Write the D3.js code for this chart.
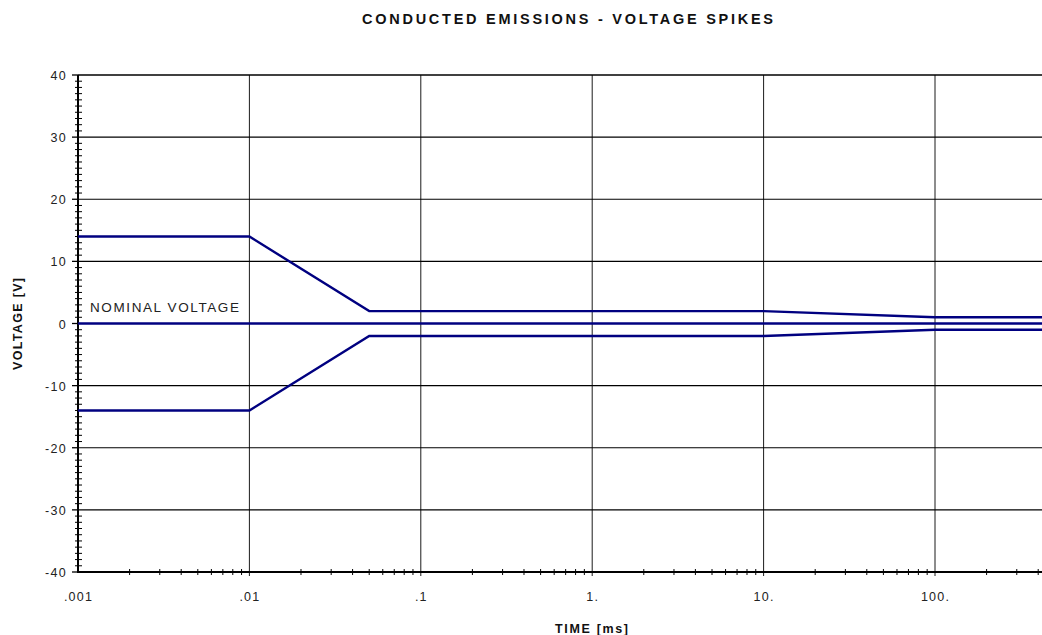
<!DOCTYPE html>
<html><head><meta charset="utf-8">
<script src="https://cdn.jsdelivr.net/npm/d3@7"></script>
<style>body{margin:0;background:#fff}svg{display:block}text{font-family:Arial,"Liberation Sans",sans-serif}</style>
</head><body><svg id="c" width="1042" height="635"></svg>
<script>
const upperT = [0.001, 0.01, 0.05, 10, 100, 1000];
const upperV = [14, 14, 2, 2, 1, 1];
const nominalT = [0.001, 1000];
const nominalV = [0, 0];
const lowerT = [0.001, 0.01, 0.05, 10, 100, 1000];
const lowerV = [-14, -14, -2, -2, -1, -1];
const xTicks = [0.001, 0.01, 0.1, 1, 10, 100];
const xTickLabels = [".001", ".01", ".1", "1.", "10.", "100."];
const yTicks = [-40, -30, -20, -10, 0, 10, 20, 30, 40];

const svg = d3.select("#c");
const x = d3.scaleLog().domain([0.001, 1000]).range([78, 78 + 171.4 * 6]);
const y = d3.scaleLinear().domain([-40, 40]).range([572, 75]);
const L = 78, R = 1042;

// horizontal gridlines
svg.append("g").selectAll("line").data(yTicks).join("line")
  .attr("x1", L).attr("x2", R).attr("y1", d => y(d)).attr("y2", d => y(d))
  .attr("stroke", "#000").attr("stroke-width", d => d === 40 ? 1.6 : 1.1);
// vertical gridlines
svg.append("g").selectAll("line").data(xTicks.slice(1)).join("line")
  .attr("x1", d => x(d)).attr("x2", d => x(d)).attr("y1", y(40)).attr("y2", 576)
  .attr("stroke", "#000").attr("stroke-width", 0.9);

// x minor ticks
const minors = [];
for (let e = -3; e <= 2; e++) for (let m = 2; m <= 9; m++) minors.push(m * Math.pow(10, e));
svg.append("g").selectAll("line").data(minors.filter(d => x(d) < R)).join("line")
  .attr("x1", d => x(d)).attr("x2", d => x(d)).attr("y1", 569).attr("y2", 575)
  .attr("stroke", "#000").attr("stroke-width", 1);
// y minor ticks
const yMinors = d3.range(-40, 41, 1).filter(d => d % 10 !== 0);
svg.append("g").selectAll("line").data(yMinors).join("line")
  .attr("x1", 75).attr("x2", 82).attr("y1", d => y(d)).attr("y2", d => y(d))
  .attr("stroke", "#000").attr("stroke-width", 1);
// y major ticks
svg.append("g").selectAll("line").data(yTicks).join("line")
  .attr("x1", 72).attr("x2", L).attr("y1", d => y(d)).attr("y2", d => y(d))
  .attr("stroke", "#000").attr("stroke-width", 1.3);

// axes lines
svg.append("line").attr("x1", L).attr("x2", L).attr("y1", y(40)).attr("y2", y(-40) + 1)
  .attr("stroke", "#000").attr("stroke-width", 2);
svg.append("line").attr("x1", L - 1).attr("x2", R).attr("y1", y(-40)).attr("y2", y(-40))
  .attr("stroke", "#000").attr("stroke-width", 2);

// tick labels
svg.append("g").selectAll("text").data(yTicks).join("text")
  .attr("x", 67).attr("y", d => y(d) + 5).attr("text-anchor", "end")
  .attr("font-size", 12.5).attr("fill", "#222").attr("letter-spacing", 1.3)
  .text(d => d);
svg.append("g").selectAll("text").data(xTicks).join("text")
  .attr("x", d => x(d) + 0.5).attr("y", 601).attr("text-anchor", "middle")
  .attr("font-size", 12.5).attr("fill", "#222").attr("letter-spacing", 1.2)
  .text((d, i) => xTickLabels[i]);

// series
const line = d3.line().x(d => x(d[0])).y(d => y(d[1]));
const series = [[upperT, upperV], [nominalT, nominalV], [lowerT, lowerV]];
svg.append("g").selectAll("path").data(series).join("path")
  .attr("d", s => line(s[0].map((t, i) => [t, s[1][i]])))
  .attr("fill", "none").attr("stroke", "#000080").attr("stroke-width", 2.4);

// annotations
svg.append("text").attr("x", 90).attr("y", 312).attr("font-size", 13.5)
  .attr("fill", "#222").attr("textLength", 149).attr("lengthAdjust", "spacing")
  .text("NOMINAL VOLTAGE");
svg.append("text").attr("x", 362).attr("y", 24)
  .attr("font-size", 14.5).attr("font-weight", "bold")
  .attr("textLength", 411).attr("lengthAdjust", "spacing")
  .attr("fill", "#111").text("CONDUCTED EMISSIONS - VOLTAGE SPIKES");
svg.append("text").attr("x", 555).attr("y", 633)
  .attr("font-size", 12.5).attr("font-weight", "bold")
  .attr("textLength", 73).attr("lengthAdjust", "spacing")
  .attr("fill", "#111").text("TIME [ms]");
svg.append("text").attr("transform", "translate(22,370) rotate(-90)")
  .attr("font-size", 12.5).attr("font-weight", "bold")
  .attr("textLength", 92).attr("lengthAdjust", "spacing")
  .attr("fill", "#111").text("VOLTAGE [V]");
</script></body></html>
